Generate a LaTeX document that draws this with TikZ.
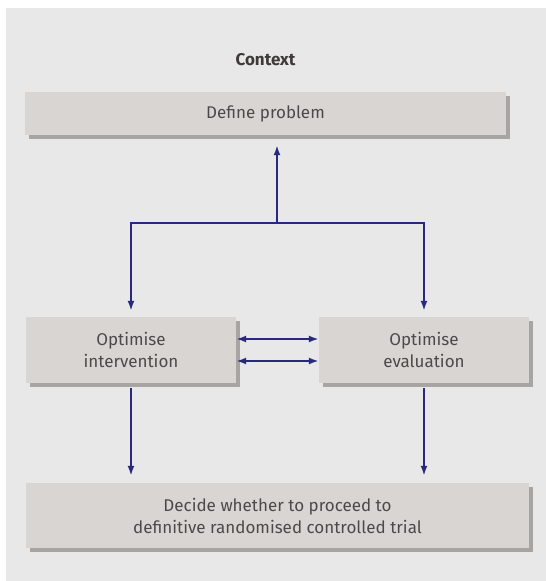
\documentclass[tikz,border=0pt]{standalone}
\usepackage{fontspec}
\setmainfont{Fira Sans}
\usetikzlibrary{arrows.meta,shadows}
\definecolor{panelgrey}{HTML}{E8E8E8}
\definecolor{boxgrey}{HTML}{D9D5D2}
\definecolor{shadowgrey}{HTML}{A8A4A2}
\definecolor{textgrey}{HTML}{4D4948}
\definecolor{flownavy}{HTML}{28287F}
\tikzset{
  stage/.style = {fill=boxgrey, text=textgrey, align=center, inner sep=0pt,
                  font=\fontsize{17}{22}\selectfont,
                  general shadow={fill=shadowgrey, shadow xshift=4pt, shadow yshift=-4pt}},
  flow/.style  = {->, draw=flownavy, line width=2pt},
  >={Latex[length=10pt,width=7pt]}
}

\begin{document}
\begin{tikzpicture}[x=1pt,y=-1pt]
  \useasboundingbox (0,0) rectangle (546,581);
  \fill[panelgrey] (6,8) rectangle (546,581);

  \node[font=\bfseries\fontsize{17}{20}\selectfont, text=textgrey!80!black] (context) at (265.5,60) {Context};
  \node[stage, minimum width=481pt, minimum height=43pt] (define) at (265.5,113.5) {Define problem};
  \node[stage, minimum width=210pt, minimum height=66pt] (optint) at (131,350) {Optimise\\intervention};
  \node[stage, minimum width=210pt, minimum height=66pt] (opteval) at (424,350) {Optimise\\evaluation};
  \node[stage, minimum width=503pt, minimum height=65pt] (decide) at (277.5,515.5) {Decide whether to proceed to\\definitive randomised controlled trial};

  \coordinate (split) at (277,223);

  % branch from the middle
  \draw[flow, shorten >=10pt] (split) -- (split |- define.south);
  \draw[flow, shorten >=6pt] (split) -| (optint.north);
  \draw[flow, shorten >=6pt] (split) -| (opteval.north);

  % between the two optimise steps
  \draw[flow, <->] ([yshift=11pt]optint.east) -- ([yshift=11pt]opteval.west);
  \draw[flow, <->] ([yshift=-11pt]optint.east) -- ([yshift=-11pt]opteval.west);

  % down to the decision
  \draw[flow, shorten <=5pt, shorten >=7pt] (optint.south) -- (optint.south |- decide.north);
  \draw[flow, shorten <=5pt, shorten >=7pt] (opteval.south) -- (opteval.south |- decide.north);
\end{tikzpicture}
\end{document}
